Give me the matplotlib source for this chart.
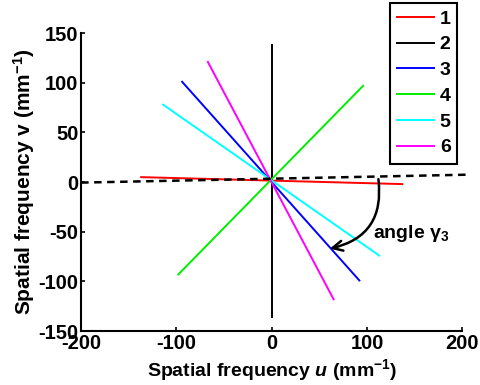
import matplotlib
matplotlib.use("Agg")
import matplotlib.pyplot as plt
from matplotlib.patches import Rectangle

plt.rcParams['font.family'] = ['Liberation Sans', 'DejaVu Sans']
plt.rcParams['font.weight'] = 'bold'
plt.rcParams['axes.unicode_minus'] = False
plt.rcParams['mathtext.fontset'] = 'custom'
plt.rcParams['mathtext.rm'] = 'Liberation Sans:bold'
plt.rcParams['mathtext.it'] = 'Liberation Sans:bold:italic'
plt.rcParams['mathtext.bf'] = 'Liberation Sans:bold'

# line endpoints (u, v)
labels = ['1', '2', '3', '4', '5', '6']
colors = ['red', 'black', 'blue', '#00ee00', 'cyan', 'magenta']
u_start = [-137, 0, -94, -98, -114, -67]
u_end = [137, 0, 92, 96, 113, 65]
v_start = [5, 138, 101, -93, 78, 121]
v_end = [-2, -136, -99, 97, -74, -118]

# dashed reference line
ref_u = [-200, 207]
ref_v = [-0.5, 7.5]

# arrow for the angle
arrow_from = (112, 3)
arrow_to = (61, -67)

W, H = 480, 385
fig = plt.figure(figsize=(4.8, 3.85), dpi=100)
ax = fig.add_axes([0.169, 0.140, 0.794, 0.774])

for i in range(len(labels)):
    ax.plot([u_start[i], u_end[i]], [v_start[i], v_end[i]], color=colors[i],
            linewidth=1.4, label=labels[i])

ax.plot(ref_u, ref_v, color='black', linestyle=(0, (3, 2.2)), linewidth=1.8,
        clip_on=False)

ax.annotate('', xy=arrow_to, xytext=arrow_from,
            arrowprops=dict(arrowstyle='->', color='black', lw=1.8,
                            connectionstyle='arc3,rad=-0.45',
                            shrinkA=0, shrinkB=0, mutation_scale=18))
ax.text(106, -52, 'angle γ$_3$', fontsize=14, fontweight='bold',
        va='center', ha='left')

ax.set_xlim(-200, 200)
ax.set_ylim(-150, 150)
ax.set_xticks([-200, -100, 0, 100, 200])
ax.set_yticks([-150, -100, -50, 0, 50, 100, 150])
ax.tick_params(direction='in', length=3, width=1.2, labelsize=14.5, pad=2)
for lab in ax.get_xticklabels() + ax.get_yticklabels():
    lab.set_fontweight('bold')
ax.spines['top'].set_visible(False)
ax.spines['right'].set_visible(False)
ax.spines['left'].set_linewidth(1.5)
ax.spines['bottom'].set_linewidth(1.5)

ax.set_xlabel('Spatial frequency $u$ (mm$^{\\mathregular{-1}}$)', fontsize=14,
              fontweight='bold', labelpad=3)
ax.set_ylabel('Spatial frequency $\\mathregular{v}$ (mm$^{\\mathregular{-1}}$)',
              fontsize=15, fontweight='bold', labelpad=1)

# legend box drawn by hand so its size matches the original
fig.patches.append(Rectangle((390 / W, 1 - 164 / H), 67 / W, 161 / H,
                             transform=fig.transFigure, facecolor='white',
                             edgecolor='black', linewidth=1.5, zorder=5))
leg = fig.legend(loc='upper left', bbox_to_anchor=(397 / W, 1 - 10 / H),
                 borderaxespad=0, borderpad=0, fontsize=14,
                 handlelength=1.9, handletextpad=0.3, labelspacing=0.42,
                 frameon=False)
leg.set_zorder(6)
for t in leg.get_texts():
    t.set_fontweight('bold')

fig.savefig('out.png', dpi=100)
